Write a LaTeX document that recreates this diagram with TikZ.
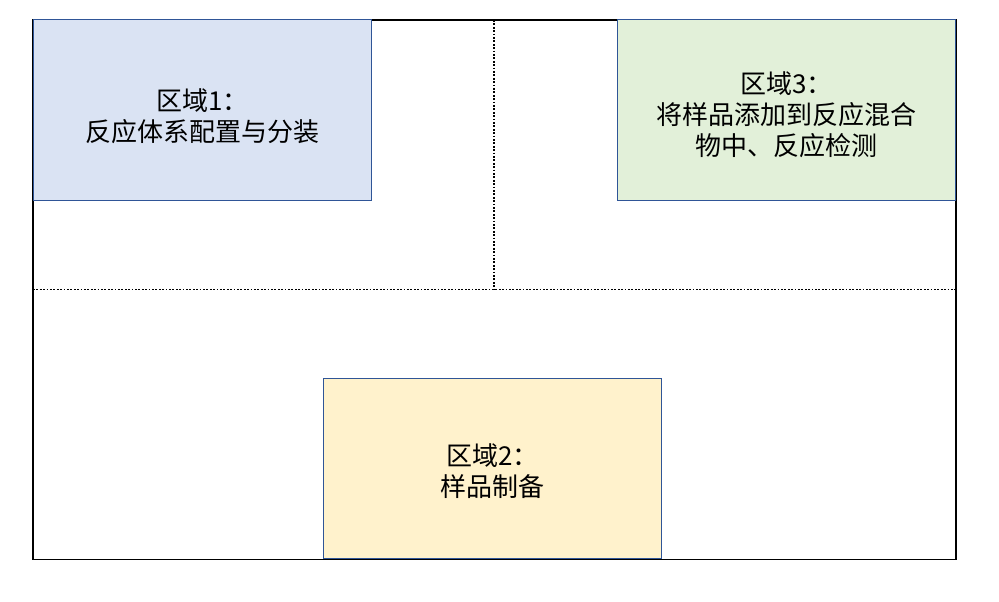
\documentclass[tikz,border=0pt]{standalone}
\usepackage{fontspec}
\newfontfamily\cjk{Noto Sans CJK SC}
\definecolor{bluefill}{HTML}{DAE3F3}
\definecolor{greenfill}{HTML}{E2F0D9}
\definecolor{yellowfill}{HTML}{FFF2CC}
\definecolor{boxline}{HTML}{2F5597}
\tikzset{
  zonebox/.style={draw=boxline, line width=1pt, rectangle, inner sep=0pt,
    minimum width=338pt, minimum height=180pt},
  zonetext/.style={align=center, inner sep=0pt,
    font=\cjk\fontsize{26pt}{31pt}\selectfont},
  divider/.style={line width=1.8pt, dash pattern=on 1.8pt off 1.6pt},
  frame/.style={draw=black, line width=1.8pt}
}
\begin{document}
\begin{tikzpicture}[x=1pt,y=-1pt]
\useasboundingbox (0,0) rectangle (999,602);
\coordinate (tl) at (33,20);
\coordinate (br) at (956,559.5);
\coordinate (hl) at (33,289.5);
\coordinate (hr) at (956,289.5);
\coordinate (vt) at (494,20);
\coordinate (vb) at (494,289.5);
\draw[frame] (tl) rectangle (br);
\draw[divider] (hl) -- (hr);
\draw[divider] (vt) -- (vb);
\node[zonebox, fill=bluefill] (z1) at (202.5,110) {};
\node[zonebox, fill=greenfill] (z3) at (786.5,110) {};
\node[zonebox, fill=yellowfill] (z2) at (492.5,468.3) {};
\node[zonetext] (t1) at ([yshift=-6pt]z1.center) {区域1：\\反应体系配置与分装};
\node[zonetext] (t3) at ([yshift=-5pt]z3.center) {区域3：\\将样品添加到反应混合\\物中、反应检测};
\node[zonetext] (t2) at ([yshift=-3pt]z2.center) {区域2：\\样品制备};
\end{tikzpicture}
\end{document}
